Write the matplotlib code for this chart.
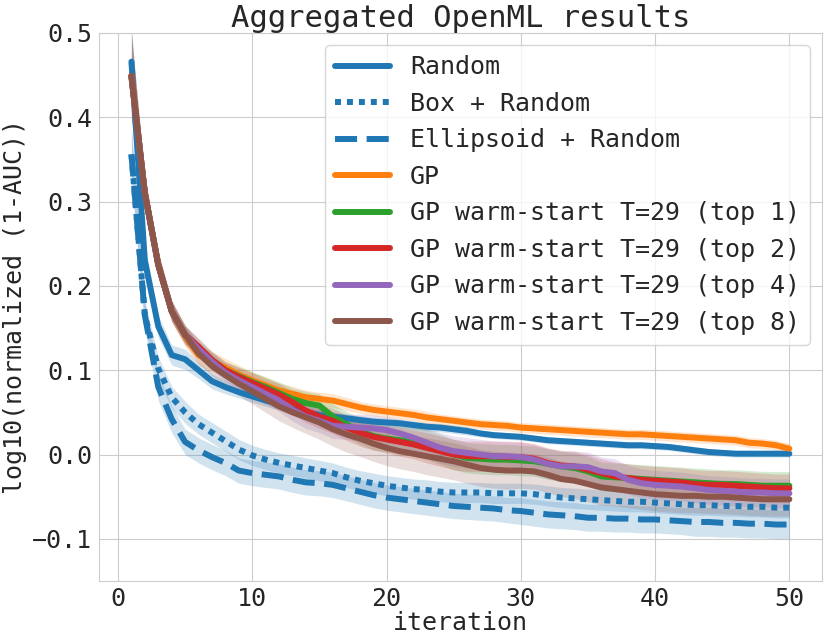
import numpy as np
import matplotlib
matplotlib.use("Agg")
import matplotlib.pyplot as plt
import seaborn as sns

iterations = np.arange(1, 51)

random_mean = [0.466, 0.23, 0.152, 0.118, 0.113, 0.100, 0.087, 0.080, 0.074, 0.069,
               0.064, 0.060, 0.054, 0.050, 0.047, 0.045, 0.043, 0.041, 0.039, 0.038,
               0.037, 0.035, 0.033, 0.032, 0.030, 0.028, 0.025, 0.023, 0.022, 0.021,
               0.019, 0.017, 0.016, 0.015, 0.014, 0.013, 0.012, 0.011, 0.011, 0.010,
               0.009, 0.007, 0.005, 0.003, 0.002, 0.001, 0.001, 0.001, 0.001, 0.001]
box_mean = [0.356, 0.165, 0.102, 0.068, 0.050, 0.036, 0.026, 0.016, 0.006, -0.001,
            -0.006, -0.010, -0.013, -0.016, -0.019, -0.022, -0.027, -0.031, -0.034, -0.037,
            -0.039, -0.041, -0.042, -0.044, -0.045, -0.045, -0.045, -0.046, -0.046, -0.046,
            -0.047, -0.049, -0.051, -0.052, -0.053, -0.054, -0.055, -0.056, -0.056, -0.057,
            -0.058, -0.059, -0.060, -0.060, -0.061, -0.061, -0.062, -0.062, -0.063, -0.063]
ellipsoid_mean = [0.356, 0.165, 0.080, 0.042, 0.015, 0.005, -0.003, -0.010, -0.019, -0.022,
                  -0.024, -0.026, -0.030, -0.033, -0.034, -0.036, -0.040, -0.044, -0.048, -0.051,
                  -0.053, -0.055, -0.057, -0.059, -0.061, -0.062, -0.063, -0.064, -0.066, -0.067,
                  -0.069, -0.071, -0.072, -0.073, -0.075, -0.075, -0.076, -0.076, -0.077, -0.077,
                  -0.078, -0.079, -0.080, -0.080, -0.081, -0.081, -0.082, -0.082, -0.083, -0.083]
gp_mean = [0.449, 0.31, 0.225, 0.170, 0.140, 0.118, 0.110, 0.103, 0.095, 0.088,
           0.082, 0.076, 0.072, 0.068, 0.066, 0.064, 0.060, 0.056, 0.053, 0.051,
           0.049, 0.047, 0.044, 0.042, 0.040, 0.038, 0.036, 0.035, 0.034, 0.032,
           0.031, 0.030, 0.029, 0.028, 0.027, 0.026, 0.025, 0.024, 0.024, 0.023,
           0.022, 0.021, 0.020, 0.019, 0.018, 0.017, 0.014, 0.013, 0.011, 0.007]
top1_mean = [0.449, 0.31, 0.225, 0.170, 0.142, 0.127, 0.112, 0.100, 0.093, 0.086,
             0.080, 0.073, 0.066, 0.061, 0.058, 0.045, 0.036, 0.028, 0.022, 0.019,
             0.017, 0.015, 0.012, 0.006, 0.000, -0.004, -0.005, -0.006, -0.006, -0.007,
             -0.008, -0.011, -0.014, -0.016, -0.020, -0.026, -0.027, -0.028, -0.029, -0.030,
             -0.031, -0.032, -0.033, -0.034, -0.035, -0.035, -0.036, -0.037, -0.037, -0.037]
top2_mean = [0.449, 0.31, 0.225, 0.170, 0.142, 0.128, 0.112, 0.100, 0.092, 0.085,
             0.078, 0.071, 0.062, 0.052, 0.045, 0.040, 0.032, 0.026, 0.021, 0.018,
             0.015, 0.012, 0.008, 0.004, 0.000, -0.002, -0.002, -0.002, -0.003, -0.003,
             -0.005, -0.010, -0.013, -0.014, -0.018, -0.022, -0.026, -0.028, -0.030, -0.031,
             -0.032, -0.033, -0.035, -0.036, -0.036, -0.037, -0.038, -0.039, -0.040, -0.040]
top4_mean = [0.449, 0.31, 0.225, 0.170, 0.142, 0.125, 0.110, 0.097, 0.088, 0.080,
             0.072, 0.064, 0.053, 0.045, 0.040, 0.034, 0.033, 0.032, 0.031, 0.029,
             0.025, 0.020, 0.014, 0.008, 0.004, 0.002, 0.000, -0.002, -0.002, -0.003,
             -0.006, -0.011, -0.014, -0.014, -0.015, -0.020, -0.022, -0.030, -0.034, -0.036,
             -0.037, -0.038, -0.040, -0.042, -0.043, -0.044, -0.045, -0.045, -0.046, -0.046]
top8_mean = [0.449, 0.31, 0.225, 0.170, 0.142, 0.120, 0.105, 0.094, 0.084, 0.075,
             0.066, 0.057, 0.050, 0.044, 0.038, 0.030, 0.024, 0.019, 0.013, 0.008,
             0.004, 0.001, -0.002, -0.005, -0.008, -0.012, -0.016, -0.018, -0.019, -0.019,
             -0.020, -0.024, -0.029, -0.031, -0.035, -0.039, -0.041, -0.043, -0.045, -0.047,
             -0.048, -0.049, -0.049, -0.050, -0.050, -0.051, -0.052, -0.053, -0.053, -0.053]

# spread of the shaded bands
random_std = [0.050, 0.020, 0.013, 0.012, 0.012, 0.010, 0.009, 0.008, 0.007, 0.007,
              0.007, 0.007, 0.006, 0.006, 0.006, 0.006, 0.005, 0.005, 0.005, 0.005,
              0.005, 0.005, 0.005, 0.005, 0.005, 0.005, 0.004, 0.004, 0.004, 0.004,
              0.004, 0.004, 0.004, 0.004, 0.004, 0.004, 0.004, 0.004, 0.004, 0.004,
              0.004, 0.004, 0.004, 0.004, 0.004, 0.004, 0.004, 0.004, 0.004, 0.004]
box_std = [0.030, 0.016, 0.014, 0.013, 0.013, 0.012, 0.012, 0.012, 0.012, 0.012,
           0.012, 0.012, 0.012, 0.012, 0.012, 0.012, 0.012, 0.012, 0.012, 0.012,
           0.012, 0.012, 0.012, 0.012, 0.012, 0.012, 0.012, 0.012, 0.012, 0.012,
           0.012, 0.012, 0.012, 0.012, 0.012, 0.012, 0.012, 0.012, 0.012, 0.012,
           0.012, 0.012, 0.012, 0.012, 0.012, 0.012, 0.012, 0.012, 0.012, 0.012]
ellipsoid_std = [0.030, 0.018, 0.016, 0.016, 0.015, 0.015, 0.015, 0.015, 0.015, 0.015,
                 0.015, 0.015, 0.015, 0.015, 0.015, 0.015, 0.015, 0.015, 0.015, 0.015,
                 0.015, 0.015, 0.015, 0.015, 0.015, 0.015, 0.015, 0.015, 0.015, 0.016,
                 0.016, 0.016, 0.016, 0.016, 0.016, 0.016, 0.016, 0.016, 0.016, 0.016,
                 0.016, 0.016, 0.017, 0.017, 0.017, 0.017, 0.017, 0.017, 0.017, 0.017]
gp_std = [0.040, 0.020, 0.015, 0.013, 0.012, 0.012, 0.012, 0.011, 0.011, 0.010,
          0.010, 0.009, 0.009, 0.008, 0.008, 0.008, 0.008, 0.007, 0.007, 0.007,
          0.007, 0.007, 0.007, 0.006, 0.006, 0.006, 0.006, 0.006, 0.006, 0.006,
          0.006, 0.006, 0.006, 0.006, 0.006, 0.006, 0.006, 0.006, 0.006, 0.006,
          0.006, 0.006, 0.006, 0.006, 0.006, 0.006, 0.006, 0.006, 0.006, 0.006]
warm_std = [0.050, 0.020, 0.014, 0.012, 0.011, 0.010, 0.010, 0.010, 0.011, 0.012,
            0.012, 0.013, 0.013, 0.014, 0.014, 0.015, 0.015, 0.016, 0.016, 0.016,
            0.017, 0.017, 0.018, 0.018, 0.018, 0.018, 0.018, 0.018, 0.018, 0.018,
            0.018, 0.018, 0.018, 0.018, 0.018, 0.017, 0.017, 0.017, 0.017, 0.017,
            0.017, 0.017, 0.017, 0.017, 0.017, 0.017, 0.017, 0.017, 0.017, 0.017]
top8_std = [0.050, 0.020, 0.014, 0.012, 0.011, 0.011, 0.012, 0.013, 0.014, 0.015,
            0.016, 0.017, 0.018, 0.019, 0.020, 0.020, 0.021, 0.021, 0.021, 0.021,
            0.021, 0.021, 0.022, 0.022, 0.022, 0.022, 0.022, 0.022, 0.022, 0.021,
            0.021, 0.021, 0.021, 0.021, 0.021, 0.021, 0.020, 0.020, 0.020, 0.020,
            0.020, 0.020, 0.020, 0.020, 0.020, 0.020, 0.020, 0.020, 0.020, 0.020]

series = [
    ("Random", random_mean, random_std, "C0", "-"),
    ("Box + Random", box_mean, box_std, "C0", (0, (1, 1))),
    ("Ellipsoid + Random", ellipsoid_mean, ellipsoid_std, "C0", "--"),
    ("GP", gp_mean, gp_std, "C1", "-"),
    ("GP warm-start T=29 (top 1)", top1_mean, warm_std, "C2", "-"),
    ("GP warm-start T=29 (top 2)", top2_mean, warm_std, "C3", "-"),
    ("GP warm-start T=29 (top 4)", top4_mean, warm_std, "C4", "-"),
    ("GP warm-start T=29 (top 8)", top8_mean, top8_std, "C5", "-"),
]

sns.set_style("whitegrid")
plt.rcParams['font.family'] = ['DejaVu Sans Mono', 'DejaVu Sans']

fig = plt.figure(figsize=(8.3, 6.44), dpi=100)
ax = fig.add_axes([0.1187, 0.0978, 0.872, 0.851])

for label, mean, std, color, ls in series:
    mean = np.array(mean)
    std = np.array(std)
    ax.plot(iterations, mean, color=color, linestyle=ls, linewidth=4.3, label=label)
    ax.fill_between(iterations, mean - std, mean + std, color=color, alpha=0.2, linewidth=0)

ax.set_ylim(-0.15, 0.5)
ax.set_xticks([0, 10, 20, 30, 40, 50])
ax.set_yticks([-0.1, 0.0, 0.1, 0.2, 0.3, 0.4, 0.5])
ax.tick_params(labelsize=18, length=0, pad=4.5)
ax.set_xlabel("iteration", fontsize=18, labelpad=0)
ax.set_ylabel("log10(normalized (1-AUC))", fontsize=18, labelpad=4)
ax.set_title("Aggregated OpenML results", fontsize=22, pad=4)
ax.legend(loc="upper right", fontsize=18, handlelength=2.2)

fig.savefig("out.png", dpi=100)
